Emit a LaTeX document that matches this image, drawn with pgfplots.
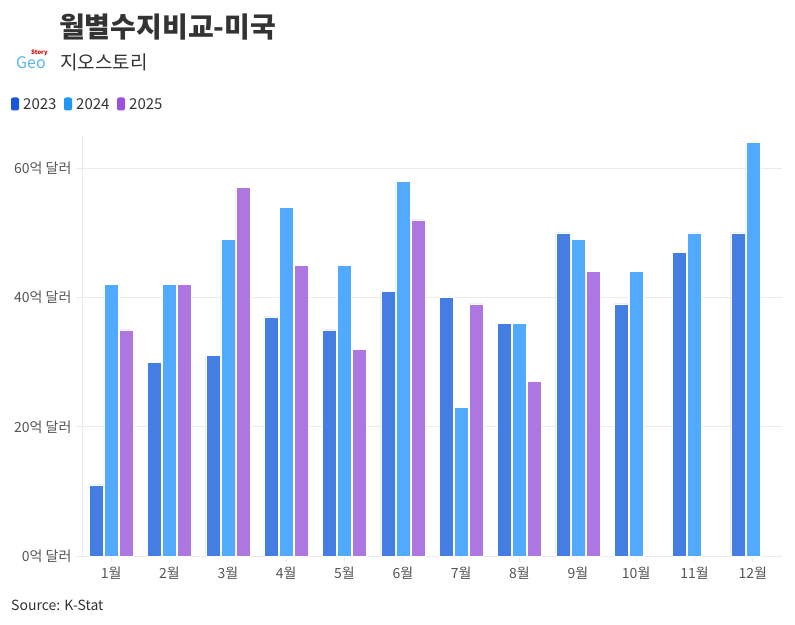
\documentclass[border=0pt]{standalone}
\usepackage{pgfplots}
\pgfplotsset{compat=1.18}
\usepackage{fontspec}
\setmainfont{Noto Sans CJK KR}
\definecolor{cA}{HTML}{3F7AE3}
\definecolor{cB}{HTML}{4DA8FE}
\definecolor{cC}{HTML}{AB72DF}
\definecolor{lA}{HTML}{1A56DB}
\definecolor{lB}{HTML}{2196F3}
\definecolor{lC}{HTML}{9B51DD}
\definecolor{txt}{HTML}{333333}
\definecolor{tick}{HTML}{555555}
\definecolor{gridc}{HTML}{EBEBEB}
\definecolor{logo}{HTML}{5AB4F0}
\begin{document}
\begin{tikzpicture}[x=1pt,y=1pt]
\path[use as bounding box, fill=white] (0pt,0pt) rectangle (795pt,624pt);
\begin{axis}[
  at={(82pt,68pt)}, anchor=south west,
  width=700pt, height=420pt, scale only axis,
  ybar=1pt, bar width=14pt,
  xmin=-0.5, xmax=11.5, ymin=0, ymax=65,
  xtick={0,...,11},
  xticklabels={1월,2월,3월,4월,5월,6월,7월,8월,9월,10월,11월,12월},
  ytick={0,20,40,60},
  yticklabels={0억 달러,20억 달러,40억 달러,60억 달러},
  axis x line*=bottom, axis y line*=left,
  axis line style={gridc, line width=1pt, -},
  tick style={gridc, line width=1pt},
  tick align=outside, major tick length=6pt,
  ymajorgrids, grid style={gridc, line width=1pt},
  ticklabel style={font=\fontsize{14}{16}\selectfont, text=tick},
  xticklabel style={yshift=-1pt},
  yticklabel style={xshift=-1pt},
  every axis plot/.append style={draw=white, line width=0.6pt, fill opacity=0.97},
]
\addplot[fill=cA] coordinates {(0,11) (1,30) (2,31) (3,37) (4,35) (5,41) (6,40) (7,36) (8,50) (9,39) (10,47) (11,50)};
\addplot[fill=cB] coordinates {(0,42) (1,42) (2,49) (3,54) (4,45) (5,58) (6,23) (7,36) (8,49) (9,44) (10,50) (11,64)};
\addplot[fill=cC] coordinates {(0,35) (1,42) (2,57) (3,45) (4,32) (5,52) (6,39) (7,27) (8,44)};
\end{axis}
% title
\node[anchor=west, text=txt, inner sep=0pt] at (59pt,597pt) {\fontsize{28}{32}\selectfont\bfseries 월별수지비교-미국};
\node[anchor=west, text=txt, inner sep=0pt] at (60pt,562pt) {\fontsize{19}{23}\selectfont 지오스토리};
% logo
\node[anchor=west, inner sep=0pt, text=logo] at (16pt,561pt) {\fontsize{16}{19}\selectfont Geo};
\node[anchor=west, inner sep=0pt, text=red!80!black] at (31pt,571pt) {\fontsize{6}{7}\selectfont\bfseries Story};
% legend
\fill[lA, rounded corners=2pt] (11pt,513.5pt) rectangle (19pt,526.5pt);
\node[anchor=west, inner sep=0pt, text=txt] at (23pt,520pt) {\fontsize{15}{17}\selectfont 2023};
\fill[lB, rounded corners=2pt] (64pt,513.5pt) rectangle (72pt,526.5pt);
\node[anchor=west, inner sep=0pt, text=txt] at (76pt,520pt) {\fontsize{15}{17}\selectfont 2024};
\fill[lC, rounded corners=2pt] (117pt,513.5pt) rectangle (125pt,526.5pt);
\node[anchor=west, inner sep=0pt, text=txt] at (129pt,520pt) {\fontsize{15}{17}\selectfont 2025};
% source
\node[anchor=west, inner sep=0pt, text=txt] at (11pt,19pt) {\fontsize{14}{16}\selectfont Source: K-Stat};
\end{tikzpicture}
\end{document}
